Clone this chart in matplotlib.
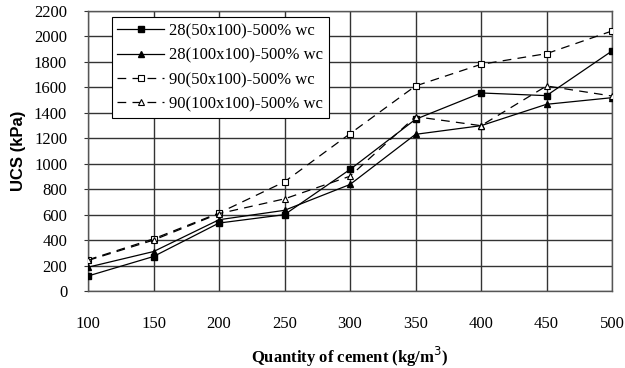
import matplotlib
matplotlib.use("Agg")
import matplotlib.pyplot as plt

cement = [100, 150, 200, 250, 300, 350, 400, 450, 500]
ucs_28_50 = [118, 271, 534, 600, 955, 1349, 1556, 1535, 1886]
ucs_28_100 = [187, 310, 560, 634, 837, 1231, 1299, 1467, 1519]
ucs_90_50 = [245, 410, 613, 858, 1236, 1611, 1781, 1865, 2043]
ucs_90_100 = [240, 400, 608, 724, 902, 1370, 1299, 1611, 1532]

fig = plt.figure(figsize=(6.25, 3.68), dpi=100)
ax = fig.add_axes([0.1408, 0.2092, 0.8384, 0.7609])

serif = ["Liberation Serif", "DejaVu Serif"]

ax.plot(cement, ucs_28_50, color="black", lw=0.9, marker="s", ms=5,
        mfc="black", mec="black", label="28(50x100)-500% wc", zorder=3)
ax.plot(cement, ucs_28_100, color="black", lw=0.9, marker="^", ms=5,
        mfc="black", mec="black", label="28(100x100)-500% wc", zorder=3)
ax.plot(cement, ucs_90_50, color="black", lw=0.9, ls=(0, (7, 5)), marker="s", ms=5,
        mfc="white", mec="black", mew=0.8, label="90(50x100)-500% wc", zorder=3)
ax.plot(cement, ucs_90_100, color="black", lw=0.9, ls=(0, (7, 5)), marker="^", ms=5,
        mfc="white", mec="black", mew=0.8, label="90(100x100)-500% wc", zorder=3)

ax.set_xlim(100, 500)
ax.set_ylim(0, 2200)
ax.set_xticks(range(100, 501, 50))
ax.set_yticks(range(0, 2201, 200))
ax.grid(True, color="#333333", lw=1.0, zorder=0)
for s in ax.spines.values():
    s.set_color("#555555")
    s.set_linewidth(1.0)

ax.tick_params(axis="x", length=0, pad=18)
ax.tick_params(axis="y", length=3, pad=12, color="#333333")
for lab in ax.get_xticklabels() + ax.get_yticklabels():
    lab.set_family(serif)
    lab.set_fontsize(12)

ax.set_ylabel("UCS (kPa)", family=["Liberation Sans", "DejaVu Sans"],
              fontweight="bold", fontsize=12, labelpad=6)
ax.set_xlabel("Quantity of cement (kg/m$^3$)", family=serif,
              fontweight="bold", fontsize=12, labelpad=9)

leg = ax.legend(loc="upper left", bbox_to_anchor=(0.045, 0.977),
                prop={"family": serif, "size": 12}, frameon=True, fancybox=False,
                edgecolor="black", framealpha=1, borderaxespad=0,
                handlelength=2.8, handletextpad=0.3, labelspacing=0.5,
                borderpad=0.35)
leg.get_frame().set_linewidth(0.8)

fig.savefig("out.png", dpi=100)
